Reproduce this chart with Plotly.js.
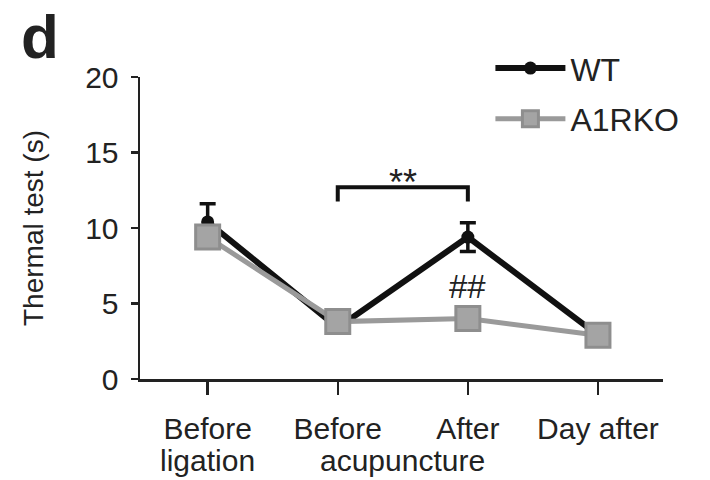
<!DOCTYPE html>
<html>
<head>
<meta charset="utf-8">
<script src="https://cdn.plot.ly/plotly-3.0.1.min.js"></script>
<style>html,body{margin:0;padding:0;background:#fff;}#chart{width:710px;height:480px;}</style>
</head>
<body>
<div id="chart"></div>
<script>
var categories = ["Before", "Before", "After", "Day after"];
var categoryIndex = [0, 1, 2, 3];
var subLabels = ["ligation", "acupuncture"];
var subLabelPositions = [0, 1.5];
var wtValues = [10.4, 3.4, 9.4, 2.9];
var wtErrors = [1.2, 0.3, 0.95, 0.15];
var koValues = [9.4, 3.8, 4.0, 2.9];
var koErrors = [0.3, 0.2, 0.3, 0.2];
var yTicks = [0, 5, 10, 15, 20];

var FONT = "Liberation Sans, Arial, Helvetica, sans-serif";

var traces = [
  {
    x: categoryIndex, y: wtValues, name: "WT", type: "scatter", mode: "lines+markers",
    legendgroup: "wt",
    line: {color: "#111111", width: 6},
    marker: {color: "#111111", size: 13, symbol: "circle"},
    error_y: {type: "data", array: wtErrors, visible: true, color: "#111111", thickness: 3.5, width: 8}
  },
  {
    x: categoryIndex, y: koValues, name: "A1RKO", type: "scatter", mode: "lines+markers",
    legendgroup: "ko",
    line: {color: "#9a9a9a", width: 5},
    marker: {color: "#a4a4a4", size: 24, symbol: "square", line: {color: "#8e8e8e", width: 3}},
    error_y: {type: "data", array: koErrors, visible: true, color: "#8e8e8e", thickness: 3, width: 6}
  }
];

var annotations = [
  {x: 1.5, y: 13.0, xref: "x", yref: "y", text: "**", showarrow: false, yanchor: "middle",
   font: {family: FONT, size: 36, color: "#222222"}},
  {x: 2, y: 6.1, xref: "x", yref: "y", text: "##", showarrow: false, yanchor: "middle",
   font: {family: FONT, size: 33, color: "#222222"}},
  {x: -0.23, y: 1.252, xref: "paper", yref: "paper", text: "<b>d</b>", showarrow: false,
   xanchor: "left", yanchor: "top", borderpad: 0, font: {family: FONT, size: 62, color: "#222222"}}
];
subLabels.forEach(function (t, i) {
  annotations.push({x: subLabelPositions[i], y: -0.27, xref: "x", yref: "paper", text: t,
    showarrow: false, yanchor: "middle", xanchor: "center", borderpad: 0,
    font: {family: FONT, size: 30, color: "#222222"}});
});

var layout = {
  width: 710, height: 480,
  margin: {l: 140, r: 47, t: 77, b: 101},
  paper_bgcolor: "#ffffff", plot_bgcolor: "#ffffff",
  font: {family: FONT, color: "#222222", size: 26},
  showlegend: true,
  legend: {
    x: 0.67, y: 1.12, xanchor: "left", yanchor: "top",
    font: {family: FONT, size: 32, color: "#222222"},
    bgcolor: "rgba(0,0,0,0)", tracegroupgap: 6, itemwidth: 70
  },
  xaxis: {
    range: [-0.52, 3.5], tickmode: "array", tickvals: categoryIndex, ticktext: categories,
    tickangle: 0, automargin: false,
    showline: true, linecolor: "#222222", linewidth: 2.5,
    ticks: "outside", ticklen: 13, tickwidth: 2.5, tickcolor: "#222222",
    showgrid: false, zeroline: false, ticklabelstandoff: 8,
    tickfont: {family: FONT, size: 30, color: "#222222"}
  },
  yaxis: {
    range: [0, 20], tickmode: "array", tickvals: yTicks, automargin: false,
    showline: true, linecolor: "#222222", linewidth: 2.5,
    ticks: "outside", ticklen: 7, tickwidth: 2.5, tickcolor: "#222222",
    showgrid: false, zeroline: false, ticklabelstandoff: 6,
    tickfont: {family: FONT, size: 30, color: "#222222"},
    title: {text: "Thermal test (s)", font: {family: FONT, size: 28, color: "#222222"}, standoff: 34}
  },
  shapes: [
    {type: "path", xref: "x", yref: "y", path: "M1,11.75 L1,12.7 L2,12.7 L2,11.75",
     line: {color: "#111111", width: 4}}
  ],
  annotations: annotations
};

Plotly.newPlot("chart", traces, layout, {displayModeBar: false, staticPlot: true});
</script>
</body>
</html>
